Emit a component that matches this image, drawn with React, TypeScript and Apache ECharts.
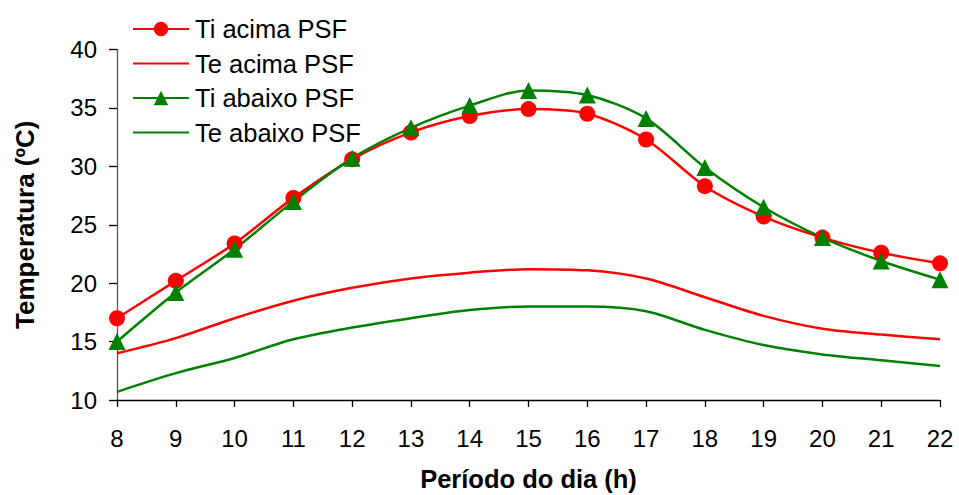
import React, { useEffect, useRef } from "react";
import * as echarts from "echarts";

const hours = [8, 9, 10, 11, 12, 13, 14, 15, 16, 17, 18, 19, 20, 21, 22];
const tiAcima = [17.0, 20.2, 23.4, 27.3, 30.6, 32.9, 34.3, 34.9, 34.5, 32.3, 28.3, 25.7, 23.9, 22.6, 21.7];
const teAcima = [14.0, 15.3, 17.0, 18.5, 19.6, 20.4, 20.9, 21.2, 21.1, 20.4, 18.8, 17.2, 16.1, 15.6, 15.2];
const tiAbaixo = [15.0, 19.2, 22.9, 27.0, 30.7, 33.3, 35.2, 36.5, 36.1, 34.1, 29.9, 26.5, 23.9, 21.9, 20.3];
const teAbaixo = [10.7, 12.3, 13.6, 15.2, 16.2, 17.0, 17.7, 18.0, 18.0, 17.6, 16.0, 14.7, 13.9, 13.4, 12.9];
const seriesNames = ["Ti acima PSF", "Te acima PSF", "Ti abaixo PSF", "Te abaixo PSF"];

const RED = "#FF0000";
const GREEN = "#008000";
const FONT = "Liberation Sans, Arial, sans-serif";

const pairs = (ys: number[]) => hours.map((h, i) => [h, ys[i]]);

export default function App() {
  const ref = useRef<HTMLDivElement>(null);
  useEffect(() => {
    if (!ref.current) return;
    const chart = echarts.init(ref.current, undefined, { renderer: "svg" });
    chart.setOption({
      animation: false,
      backgroundColor: "#ffffff",
      textStyle: { fontFamily: FONT },
      grid: { left: 117, right: 19, top: 49.5, bottom: 95, containLabel: false, outerBoundsMode: "none" },
      legend: {
        orient: "vertical",
        left: 127,
        top: 10,
        itemWidth: 56,
        itemHeight: 18,
        itemGap: 6.5,
        data: [
          { name: seriesNames[0] },
          { name: seriesNames[1], itemStyle: { opacity: 0 } },
          { name: seriesNames[2] },
          { name: seriesNames[3], itemStyle: { opacity: 0 } },
        ],
        textStyle: { fontSize: 25.5, color: "#000", fontFamily: FONT, lineHeight: 28, padding: [0, 0, 0, 1] },
      },
      xAxis: {
        type: "value",
        min: 8,
        max: 22,
        interval: 1,
        name: "Período do dia (h)",
        nameLocation: "middle",
        nameGap: 66,
        nameTextStyle: { fontSize: 25.5, fontWeight: "bold", color: "#000", fontFamily: FONT },
        axisLine: { lineStyle: { color: "#000", width: 1.3 } },
        axisTick: { show: true, length: 7, inside: false, lineStyle: { color: "#000", width: 1.3 } },
        axisLabel: { fontSize: 24, color: "#000", margin: 26, fontFamily: FONT },
        splitLine: { show: false },
      },
      yAxis: {
        type: "value",
        min: 10,
        max: 40,
        interval: 5,
        name: "Temperatura (ºC)",
        nameLocation: "middle",
        nameGap: 79,
        nameRotate: 90,
        nameTextStyle: { fontSize: 26, fontWeight: "bold", color: "#000", fontFamily: FONT },
        axisLine: { show: true, lineStyle: { color: "#555", width: 1.3 } },
        axisTick: { show: true, length: 8, inside: false, lineStyle: { color: "#000", width: 1.3 } },
        axisLabel: { fontSize: 24, color: "#000", margin: 20, fontFamily: FONT },
        splitLine: { show: false },
      },
      series: [
        {
          name: seriesNames[0],
          type: "line",
          data: pairs(tiAcima),
          smooth: 0.3,
          symbol: "circle",
          symbolSize: 16,
          itemStyle: { color: RED },
          lineStyle: { color: RED, width: 2.5 },
        },
        {
          name: seriesNames[1],
          type: "line",
          data: pairs(teAcima),
          smooth: 0.3,
          symbol: "none",
          itemStyle: { color: RED },
          lineStyle: { color: RED, width: 2.5 },
        },
        {
          name: seriesNames[2],
          type: "line",
          data: pairs(tiAbaixo),
          smooth: 0.3,
          symbol: "triangle",
          symbolSize: 17,
          itemStyle: { color: GREEN },
          lineStyle: { color: GREEN, width: 2.5 },
        },
        {
          name: seriesNames[3],
          type: "line",
          data: pairs(teAbaixo),
          smooth: 0.3,
          symbol: "none",
          itemStyle: { color: GREEN },
          lineStyle: { color: GREEN, width: 2.5 },
        },
      ],
    });
    return () => chart.dispose();
  }, []);
  return <div ref={ref} style={{ width: 959, height: 495, position: "absolute", left: 0, top: 0 }} />;
}
